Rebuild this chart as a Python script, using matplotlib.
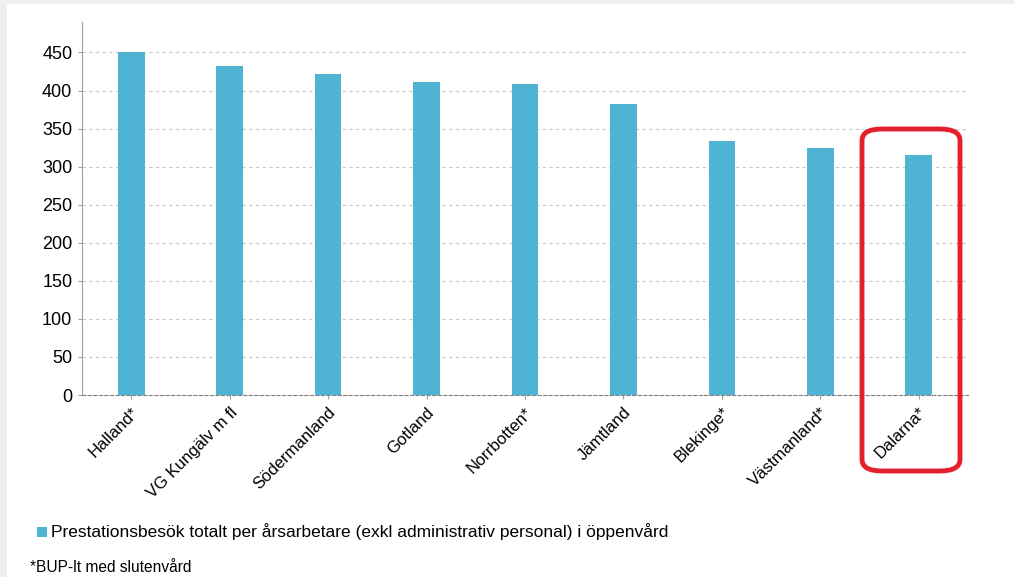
import matplotlib
matplotlib.use("Agg")
import matplotlib.pyplot as plt
from matplotlib.patches import FancyBboxPatch, Rectangle
from matplotlib.ticker import MultipleLocator

plt.rcParams['font.family'] = ['Liberation Sans', 'DejaVu Sans']

regions = ["Halland*", "VG Kungälv m fl", "Södermanland", "Gotland", "Norrbotten*",
           "Jämtland", "Blekinge*", "Västmanland*", "Dalarna*"]
visits = [450, 432, 422, 411, 409, 382, 334, 324, 315]
legend_label = "Prestationsbesök totalt per årsarbetare (exkl administrativ personal) i öppenvård"
footnote = "*BUP-lt med slutenvård"

bar_color = "#4FB3D4"
W, H = 1014, 577

fig = plt.figure(figsize=(W / 100, H / 100), dpi=100)
fig.patch.set_facecolor("white")
# grey frame at top/left like the screenshot
fig.patches.append(Rectangle((0, 1 - 4 / H), 1, 4 / H, transform=fig.transFigure,
                             facecolor="#efefef", edgecolor="none", zorder=0))
fig.patches.append(Rectangle((0, 0), 7 / W, 1, transform=fig.transFigure,
                             facecolor="#efefef", edgecolor="none", zorder=0))

ax = fig.add_axes([82 / W, (H - 395) / H, (968 - 82) / W, (395 - 22) / H])
x = list(range(len(regions)))
ax.bar(x, visits, width=0.27, color=bar_color, zorder=3)

ax.set_xlim(-0.5, len(regions) - 0.5)
ax.set_ylim(0, 490)
ax.set_yticks(range(0, 451, 50))
ax.yaxis.grid(True, linestyle=(0, (3, 3)), color="#c8c8c8", linewidth=0.8, zorder=0)
ax.set_xticks(x)
ax.set_xticklabels(regions, rotation=45, ha="right", rotation_mode="anchor", fontsize=12)
ax.tick_params(axis="y", labelsize=13, length=3, color="#a0a0a0", pad=4)
ax.tick_params(axis="x", length=3, color="#a0a0a0", pad=4)

for s in ["top", "right"]:
    ax.spines[s].set_visible(False)
ax.spines["left"].set_color("#a0a0a0")
ax.spines["bottom"].set_color("#808080")
ax.spines["bottom"].set_linestyle((0, (3, 2)))
ax.spines["bottom"].set_linewidth(0.8)

# legend and footnote
fig.patches.append(Rectangle((37 / W, (H - 537) / H), 10 / W, 10 / H, transform=fig.transFigure,
                             facecolor=bar_color, edgecolor="none"))
fig.text(51 / W, (H - 532) / H, legend_label, fontsize=12.5, va="center", ha="left")
fig.text(30 / W, (H - 567) / H, footnote, fontsize=11.2, va="center", ha="left")

# red highlight box around last category
box = FancyBboxPatch((862 / W, (H - 471) / H), 98 / W, 342 / H,
                     boxstyle="round,pad=0,rounding_size=0.02",
                     transform=fig.transFigure, facecolor="none",
                     edgecolor="#E3212D", linewidth=3.5, zorder=10)
fig.patches.append(box)

fig.savefig("out.png", dpi=100)
